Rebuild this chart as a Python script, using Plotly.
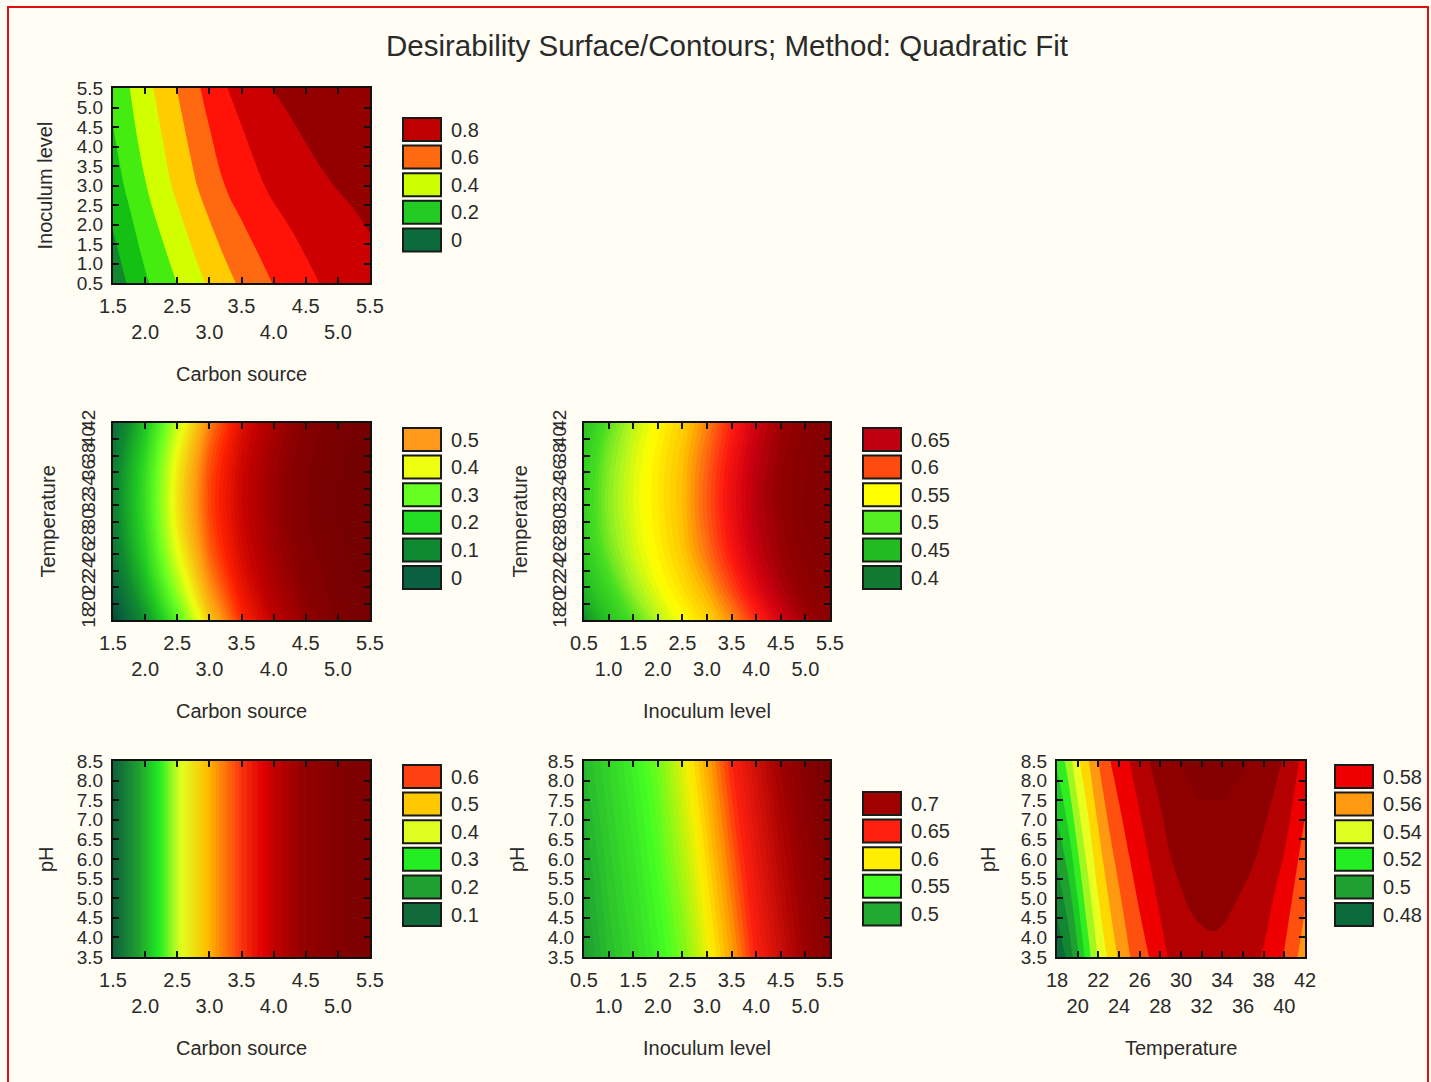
import plotly.graph_objects as go

W, H = 1431, 1082
BG = "#fffdf4"
FONT = "Liberation Sans, Arial, Helvetica, sans-serif"
TXT = "#2a2a2a"
TITLE = "Desirability Surface/Contours; Method: Quadratic Fit"

# ---------------- grid coordinates ----------------
carbon_x = [1.5, 2.0, 2.5, 3.0, 3.5, 4.0, 4.5, 5.0, 5.5]
carbon_x17 = [1.5, 1.75, 2.0, 2.25, 2.5, 2.75, 3.0, 3.25, 3.5, 3.75, 4.0, 4.25, 4.5,
              4.75, 5.0, 5.25, 5.5]
inoc_x = [0.5, 1.0, 1.5, 2.0, 2.5, 3.0, 3.5, 4.0, 4.5, 5.0, 5.5]
temp_x25 = [18, 19, 20, 21, 22, 23, 24, 25, 26, 27, 28, 29, 30, 31, 32, 33, 34, 35,
            36, 37, 38, 39, 40, 41, 42]
inoc_y3 = [0.5, 3.0, 5.5]
temp_y = [18, 22, 26, 30, 34, 38, 42]
ph_y3 = [3.5, 6.0, 8.5]
ph_y2 = [3.5, 8.5]

# ---------------- tick values ----------------
carbon_ticks = [1.5, 2.0, 2.5, 3.0, 3.5, 4.0, 4.5, 5.0, 5.5]
inoc_ticks = [0.5, 1.0, 1.5, 2.0, 2.5, 3.0, 3.5, 4.0, 4.5, 5.0, 5.5]
temp_ticks = [18, 20, 22, 24, 26, 28, 30, 32, 34, 36, 38, 40, 42]
ph_ticks = [3.5, 4.0, 4.5, 5.0, 5.5, 6.0, 6.5, 7.0, 7.5, 8.0, 8.5]

# ---------------- desirability values ----------------
# Panel 1: Inoculum level (rows 0.5, 3.0, 5.5) x Carbon source (17 cols)
z_inoc_carbon = [
    [0.140, 0.212, 0.285, 0.345, 0.402, 0.459, 0.515, 0.568, 0.618, 0.661, 0.704,
     0.739, 0.774, 0.805, 0.827, 0.848, 0.870],
    [0.251, 0.323, 0.395, 0.459, 0.523, 0.586, 0.646, 0.702, 0.745, 0.785, 0.820,
     0.845, 0.869, 0.889, 0.904, 0.917, 0.929],
    [0.330, 0.397, 0.465, 0.533, 0.603, 0.672, 0.736, 0.795, 0.834, 0.872, 0.904,
     0.922, 0.940, 0.953, 0.965, 0.973, 0.980],
]
# Panel 2: Temperature (rows) x Carbon source (cols)
z_temp_carbon = [
    [-0.046, 0.110, 0.277, 0.454, 0.574, 0.651, 0.707, 0.743, 0.761],
    [0.011, 0.168, 0.346, 0.502, 0.604, 0.673, 0.722, 0.751, 0.765],
    [0.050, 0.209, 0.394, 0.535, 0.625, 0.688, 0.732, 0.756, 0.768],
    [0.071, 0.230, 0.420, 0.552, 0.636, 0.696, 0.738, 0.759, 0.770],
    [0.074, 0.234, 0.424, 0.555, 0.638, 0.698, 0.739, 0.759, 0.770],
    [0.060, 0.220, 0.407, 0.543, 0.630, 0.692, 0.735, 0.757, 0.769],
    [0.029, 0.187, 0.368, 0.517, 0.613, 0.680, 0.727, 0.753, 0.767],
]
# Panel 3: Temperature (rows) x Inoculum level (cols)
z_temp_inoc = [
    [0.420, 0.458, 0.493, 0.523, 0.545, 0.565, 0.590, 0.620, 0.648, 0.668, 0.680],
    [0.448, 0.483, 0.516, 0.540, 0.560, 0.582, 0.612, 0.641, 0.664, 0.677, 0.686],
    [0.466, 0.501, 0.529, 0.550, 0.570, 0.597, 0.627, 0.654, 0.671, 0.682, 0.689],
    [0.474, 0.509, 0.534, 0.554, 0.574, 0.604, 0.634, 0.659, 0.674, 0.685, 0.690],
    [0.475, 0.510, 0.535, 0.555, 0.575, 0.605, 0.635, 0.660, 0.675, 0.685, 0.690],
    [0.471, 0.506, 0.532, 0.553, 0.573, 0.601, 0.631, 0.657, 0.673, 0.684, 0.689],
    [0.461, 0.496, 0.525, 0.547, 0.567, 0.593, 0.623, 0.650, 0.669, 0.681, 0.688],
]
# Panel 4: pH (rows) x Carbon source (cols)
z_ph_carbon = [
    [0.080, 0.230, 0.385, 0.510, 0.610, 0.670, 0.710, 0.735, 0.750],
    [0.080, 0.230, 0.385, 0.510, 0.610, 0.670, 0.710, 0.735, 0.750],
    [0.080, 0.230, 0.385, 0.510, 0.610, 0.670, 0.710, 0.735, 0.750],
]
# Panel 5: pH (rows) x Inoculum level (cols)
z_ph_inoc = [
    [0.491, 0.511, 0.526, 0.543, 0.563, 0.594, 0.622, 0.652, 0.678, 0.703, 0.720],
    [0.500, 0.518, 0.534, 0.552, 0.578, 0.607, 0.636, 0.664, 0.690, 0.711, 0.727],
    [0.510, 0.525, 0.542, 0.562, 0.592, 0.620, 0.650, 0.676, 0.702, 0.720, 0.733],
]
# Panel 6: pH (rows 3.5, 8.5) x Temperature (25 cols)
z_ph_temp = [
    [0.482, 0.492, 0.508, 0.526, 0.541, 0.552, 0.5615, 0.5695, 0.5755, 0.5805, 0.5865,
     0.5915, 0.5945, 0.5965, 0.5975, 0.598, 0.5975, 0.596, 0.594, 0.592, 0.589, 0.584,
     0.5795, 0.572, 0.565],
    [0.522, 0.533, 0.548, 0.559, 0.570, 0.579, 0.585, 0.590, 0.595, 0.6005, 0.604,
     0.608, 0.610, 0.612, 0.613, 0.613, 0.613, 0.612, 0.611, 0.609, 0.606, 0.603,
     0.599, 0.593, 0.586],
]

# ---------------- legend entries ----------------
leg1_labels = ["0.8", "0.6", "0.4", "0.2", "0"]
leg1_colors = ["#c00000", "#ff6a10", "#ccff00", "#22cc22", "#0b6b3a"]
leg2_labels = ["0.5", "0.4", "0.3", "0.2", "0.1", "0"]
leg2_colors = ["#ff9a1a", "#eeff10", "#66ff22", "#22dd22", "#108a30", "#0a6040"]
leg3_labels = ["0.65", "0.6", "0.55", "0.5", "0.45", "0.4"]
leg3_colors = ["#c00010", "#ff4a10", "#ffff00", "#55ee22", "#22bb22", "#107a30"]
leg4_labels = ["0.6", "0.5", "0.4", "0.3", "0.2", "0.1"]
leg4_colors = ["#ff4010", "#ffc800", "#e0ff20", "#22ee22", "#20a030", "#106a3a"]
leg5_labels = ["0.7", "0.65", "0.6", "0.55", "0.5"]
leg5_colors = ["#a00000", "#ff2010", "#ffee00", "#44ff22", "#22aa30"]
leg6_labels = ["0.58", "0.56", "0.54", "0.52", "0.5", "0.48"]
leg6_colors = ["#ee0000", "#ff9a10", "#ddff22", "#22ee22", "#20a030", "#0a6a3a"]

# ---------------- colour anchors (value -> colour) ----------------
anch1 = [(0.0, "#0b6b3a"), (0.05, "#0b6b3a"), (0.15, "#11882e"), (0.25, "#14c014"),
         (0.35, "#44ec10"), (0.45, "#d2ff00"), (0.55, "#ffcc00"), (0.65, "#ff6a10"),
         (0.75, "#ff1208"), (0.85, "#cc0000"), (0.95, "#940000"), (1.0, "#820000")]
anch2 = [(-0.05, "#064a30"), (0.0, "#0a6040"), (0.1, "#108a30"), (0.2, "#22cc22"),
         (0.3, "#66ff22"), (0.4, "#eeff10"), (0.5, "#ff9a10"), (0.58, "#ff2000"),
         (0.65, "#c00000"), (0.72, "#880000"), (0.80, "#660000")]
anch3 = [(0.40, "#0e7030"), (0.45, "#22bb22"), (0.49, "#44dd22"), (0.52, "#aaf520"),
         (0.545, "#ffff00"), (0.575, "#ffc000"), (0.60, "#ff6a10"), (0.625, "#ff1a10"),
         (0.65, "#d00010"), (0.675, "#900000"), (0.70, "#780000")]
anch4 = [(0.05, "#0a5a34"), (0.1, "#106a3a"), (0.2, "#20a030"), (0.3, "#22ee22"),
         (0.4, "#e0ff20"), (0.5, "#ffc000"), (0.6, "#ff4010"), (0.65, "#e00000"),
         (0.7, "#9a0000"), (0.78, "#680000")]
anch5 = [(0.45, "#0a6030"), (0.5, "#22aa30"), (0.55, "#44ff22"), (0.6, "#ffee00"),
         (0.625, "#ff9a00"), (0.65, "#ff2010"), (0.7, "#a00000"), (0.75, "#600000")]
anch6 = [(0.47, "#075a32"), (0.475, "#075a32"), (0.485, "#0a6a3a"), (0.495, "#128630"),
         (0.505, "#20a030"), (0.515, "#1ccc24"), (0.525, "#30ee22"), (0.535, "#a0f820"),
         (0.545, "#e8ff20"), (0.555, "#ffd800"), (0.565, "#ff9a10"), (0.575, "#ff5010"),
         (0.585, "#ee0000"), (0.595, "#b40000"), (0.605, "#8e0000"), (0.615, "#840000"),
         (0.62, "#800000")]


def px_x(p):
    return p / W


def px_y(p):
    return 1 - p / H


def build_cs(anchors, lo, hi):
    stops = []
    for v, c in anchors:
        t = (v - lo) / (hi - lo)
        t = min(max(t, 0.0), 1.0)
        if stops and t < stops[-1][0]:
            continue
        stops.append([t, c])
    if stops[0][0] > 0:
        stops.insert(0, [0.0, stops[0][1]])
    else:
        stops[0][0] = 0.0
    if stops[-1][0] < 1:
        stops.append([1.0, stops[-1][1]])
    return stops


def stagger(vals, fmt):
    out = []
    for i, v in enumerate(vals):
        s = fmt.format(v)
        out.append(s if i % 2 == 0 else "<br>" + s)
    return out


panels = [
    dict(x=carbon_x17, y=inoc_y3, z=z_inoc_carbon, box=(113, 370, 88, 283),
         xt=carbon_ticks, xf="{:.1f}", yt=inoc_ticks, yf="{:.1f}", yrot=False,
         xr=(1.5, 5.5), yr=(0.5, 5.5), start=0.0, end=1.0, size=0.1, anch=anch1,
         xtitle="Carbon source", ytitle="Inoculum level", ytx=44,
         leg=(leg1_labels, leg1_colors), legx=403, legy=118),
    dict(x=carbon_x, y=temp_y, z=z_temp_carbon, box=(113, 370, 423, 620),
         xt=carbon_ticks, xf="{:.1f}", yt=temp_ticks, yf="{:d}", yrot=True,
         xr=(1.5, 5.5), yr=(18, 42), start=-0.05, end=0.80, size=0.01, anch=anch2,
         xtitle="Carbon source", ytitle="Temperature", ytx=48,
         leg=(leg2_labels, leg2_colors), legx=403, legy=428),
    dict(x=inoc_x, y=temp_y, z=z_temp_inoc, box=(584, 830, 423, 620),
         xt=inoc_ticks, xf="{:.1f}", yt=temp_ticks, yf="{:d}", yrot=True,
         xr=(0.5, 5.5), yr=(18, 42), start=0.40, end=0.70, size=0.005, anch=anch3,
         xtitle="Inoculum level", ytitle="Temperature", ytx=520,
         leg=(leg3_labels, leg3_colors), legx=863, legy=428),
    dict(x=carbon_x, y=ph_y3, z=z_ph_carbon, box=(113, 370, 761, 957),
         xt=carbon_ticks, xf="{:.1f}", yt=ph_ticks, yf="{:.1f}", yrot=False,
         xr=(1.5, 5.5), yr=(3.5, 8.5), start=0.05, end=0.78, size=0.01, anch=anch4,
         xtitle="Carbon source", ytitle="pH", ytx=46,
         leg=(leg4_labels, leg4_colors), legx=403, legy=765),
    dict(x=inoc_x, y=ph_y3, z=z_ph_inoc, box=(584, 830, 761, 957),
         xt=inoc_ticks, xf="{:.1f}", yt=ph_ticks, yf="{:.1f}", yrot=False,
         xr=(0.5, 5.5), yr=(3.5, 8.5), start=0.45, end=0.75, size=0.005, anch=anch5,
         xtitle="Inoculum level", ytitle="pH", ytx=517,
         leg=(leg5_labels, leg5_colors), legx=863, legy=792),
    dict(x=temp_x25, y=ph_y2, z=z_ph_temp, box=(1057, 1305, 761, 957),
         xt=temp_ticks, xf="{:d}", yt=ph_ticks, yf="{:.1f}", yrot=False,
         xr=(18, 42), yr=(3.5, 8.5), start=0.47, end=0.62, size=0.01, anch=anch6,
         xtitle="Temperature", ytitle="pH", ytx=988,
         leg=(leg6_labels, leg6_colors), legx=1335, legy=765),
]

fig = go.Figure()
layout = dict(
    width=W, height=H, autosize=False,
    margin=dict(l=0, r=0, t=0, b=0, pad=0, autoexpand=False),
    paper_bgcolor=BG, plot_bgcolor=BG,
    font=dict(family=FONT, color=TXT, size=20),
    showlegend=False,
)
shapes = []
annotations = []

LEG_W, LEG_H, LEG_STEP = 38, 23, 27.6
TICKFONT = dict(family=FONT, size=20, color=TXT)
YTICKFONT = dict(family=FONT, size=19, color=TXT)

for i, p in enumerate(panels, start=1):
    xa = "x" if i == 1 else f"x{i}"
    ya = "y" if i == 1 else f"y{i}"
    xkey = "xaxis" if i == 1 else f"xaxis{i}"
    ykey = "yaxis" if i == 1 else f"yaxis{i}"
    x0, x1, y0, y1 = p["box"]
    lo, hi = p["start"], p["end"]
    fig.add_trace(go.Contour(
        x=p["x"], y=p["y"], z=p["z"],
        colorscale=build_cs(p["anch"], lo, hi),
        zmin=lo, zmax=hi + p["size"] * 1e-3,
        autocontour=False,
        contours=dict(start=lo, end=hi, size=p["size"], coloring="fill", showlines=False),
        line=dict(width=0, smoothing=1.3),
        showscale=False, hoverinfo="skip",
        xaxis=xa, yaxis=ya,
    ))
    layout[xkey] = dict(
        domain=[px_x(x0), px_x(x1)], range=list(p["xr"]), anchor=ya,
        tickmode="array", tickvals=p["xt"], ticktext=stagger(p["xt"], p["xf"]),
        ticks="inside", ticklen=6, tickwidth=1.5, tickcolor="#111",
        showline=True, linecolor="#111", linewidth=2, mirror="ticks",
        showgrid=False, zeroline=False, tickfont=TICKFONT, tickangle=0,
        ticklabelstandoff=4, automargin=False,
    )
    layout[ykey] = dict(
        domain=[px_y(y1), px_y(y0)], range=list(p["yr"]), anchor=xa,
        tickmode="array", tickvals=p["yt"], ticktext=[p["yf"].format(v) for v in p["yt"]],
        ticks="inside", ticklen=6, tickwidth=1.5, tickcolor="#111",
        showline=True, linecolor="#111", linewidth=2, mirror="ticks",
        showgrid=False, zeroline=False, tickfont=YTICKFONT,
        tickangle=-90 if p["yrot"] else 0,
        ticklabelstandoff=4 if not p["yrot"] else 8, automargin=False,
    )
    annotations.append(dict(
        text=p["xtitle"], xref="paper", yref="paper",
        x=px_x((x0 + x1) / 2), y=px_y(y1 + 91), xanchor="center", yanchor="middle",
        showarrow=False, font=dict(family=FONT, size=20, color=TXT)))
    annotations.append(dict(
        text=p["ytitle"], xref="paper", yref="paper", textangle=-90,
        x=px_x(p["ytx"]), y=px_y((y0 + y1) / 2), xanchor="center", yanchor="middle",
        showarrow=False, font=dict(family=FONT, size=20, color=TXT)))
    labels, colors = p["leg"]
    for k, (lab, col) in enumerate(zip(labels, colors)):
        top = p["legy"] + k * LEG_STEP
        shapes.append(dict(
            type="rect", xref="paper", yref="paper",
            x0=px_x(p["legx"]), x1=px_x(p["legx"] + LEG_W),
            y0=px_y(top + LEG_H), y1=px_y(top),
            fillcolor=col, line=dict(color="#1a1a1a", width=2)))
        annotations.append(dict(
            text=lab, xref="paper", yref="paper",
            x=px_x(p["legx"] + LEG_W + 8), y=px_y(top + LEG_H / 2),
            xanchor="left", yanchor="middle", showarrow=False,
            font=dict(family=FONT, size=20, color=TXT)))

annotations.append(dict(
    text=TITLE, xref="paper", yref="paper", x=px_x(727), y=px_y(46),
    xanchor="center", yanchor="middle", showarrow=False,
    font=dict(family=FONT, size=29.5, color=TXT)))

shapes.append(dict(
    type="rect", xref="paper", yref="paper",
    x0=px_x(8), x1=px_x(1428), y0=px_y(1095), y1=px_y(7),
    line=dict(color="#e01010", width=2), fillcolor="rgba(0,0,0,0)", layer="above"))

layout["shapes"] = shapes
layout["annotations"] = annotations
fig.update_layout(**layout)
fig.write_html(
    "out.html",
    config={"displayModeBar": False, "responsive": False},
    post_script="document.body.style.margin='0';document.body.style.overflow='hidden';",
)
